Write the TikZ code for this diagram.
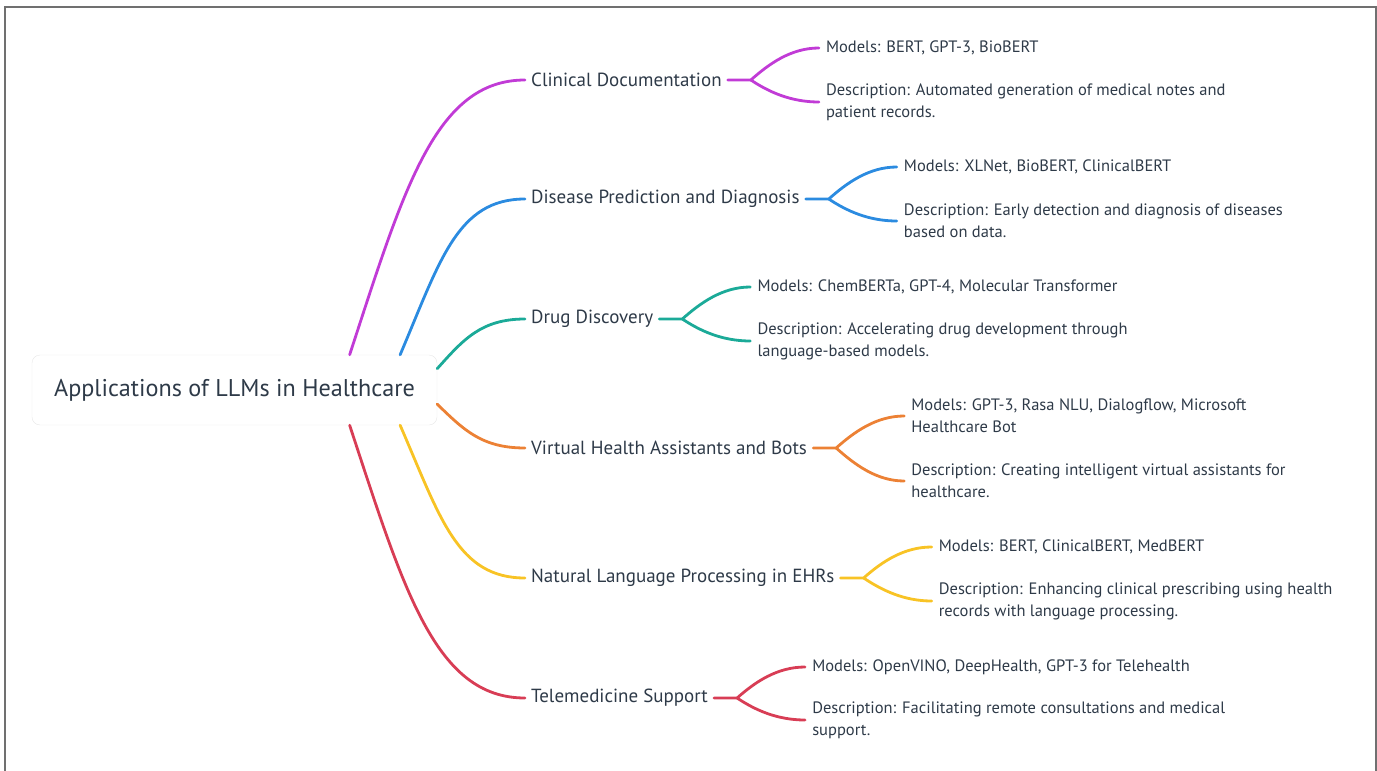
\documentclass[tikz,border=0pt]{standalone}
\usepackage{fontspec}
\setmainfont{PT Sans}
\usetikzlibrary{positioning}
\definecolor{txt}{HTML}{2E3A48}
\definecolor{cMag}{HTML}{C13BD6}
\definecolor{cBlue}{HTML}{2B8BE0}
\definecolor{cTeal}{HTML}{1BAA98}
\definecolor{cOrange}{HTML}{EC8135}
\definecolor{cYellow}{HTML}{F8C325}
\definecolor{cRed}{HTML}{D83D55}
\definecolor{frameGray}{HTML}{707070}
\tikzset{
  root/.style={draw=black!9, fill=white, rounded corners=8pt, minimum width=405pt,
    minimum height=70pt, inner sep=0pt, font=\fontsize{24.2}{28}\selectfont, text=txt},
  topic/.style={anchor=west, inner sep=0pt, inner xsep=6pt, font=\fontsize{19}{22}\selectfont, text=txt},
  leaf/.style={anchor=west, inner sep=0pt, inner xsep=7pt, align=left, font=\fontsize{16.5}{22}\selectfont, text=txt},
  branch/.style={line width=2.8pt, line cap=round},
}
\begin{document}
\begin{tikzpicture}[x=1pt,y=-1pt]
    \useasboundingbox (0,0) rectangle (1377,771);
    \draw[frameGray, line width=1.2pt] (5,771) -- (5,7) -- (1376,7) -- (1376,771);

    \node[root] (root) at (234.5,390) {Applications of LLMs in Healthcare};

    % first level
    \node[topic] (cd) at (525,80) {Clinical Documentation};
    \node[topic] (dp) at (525,199) {Disease Prediction and Diagnosis};
    \node[topic] (dd) at (525,319) {Drug Discovery};
    \node[topic] (va) at (525,448) {Virtual Health Assistants and Bots};
    \node[topic] (nlp) at (525,578) {Natural Language Processing in EHRs};
    \node[topic] (tm) at (525,698) {Telemedicine Support};

    \draw[branch, cMag] (root.17.6) .. controls +(54,-165) and +(-90,0) .. (cd.west);
    \draw[branch, cBlue] (root.12.7) .. controls +(40,-94) and +(-68,0) .. (dp.west);
    \draw[branch, cTeal] (root.6.5) .. controls +(26,-29) and +(-44,0) .. (dd.west);
    \draw[branch, cOrange] (root.-4.8) .. controls +(26,25) and +(-44,0) .. (va.west);
    \draw[branch, cYellow] (root.-12.7) .. controls +(40,92) and +(-68,0) .. (nlp.west);
    \draw[branch, cRed] (root.-17.6) .. controls +(54,164) and +(-90,0) .. (tm.west);

    % fork points
    \coordinate (cdf) at ([xshift=23pt]cd.east);
    \coordinate (dpf) at ([xshift=23pt]dp.east);
    \coordinate (ddf) at ([xshift=23pt]dd.east);
    \coordinate (vaf) at ([xshift=23pt]va.east);
    \coordinate (nlpf) at ([xshift=23pt]nlp.east);
    \coordinate (tmf) at ([xshift=23pt]tm.east);

    % second level
    \node[leaf] (cdm) at ([shift={(68,-32)}]cdf) {Models: BERT, GPT-3, BioBERT};
    \node[leaf] (cdd) at ([shift={(68,22)}]cdf) {Description: Automated generation of medical notes and\\patient records.};
    \node[leaf] (dpm) at ([shift={(68,-32)}]dpf) {Models: XLNet, BioBERT, ClinicalBERT};
    \node[leaf] (dpd) at ([shift={(68,22)}]dpf) {Description: Early detection and diagnosis of diseases\\based on data.};
    \node[leaf] (ddm) at ([shift={(68,-32)}]ddf) {Models: ChemBERTa, GPT-4, Molecular Transformer};
    \node[leaf] (ddd) at ([shift={(68,22)}]ddf) {Description: Accelerating drug development through\\language-based models.};
    \node[leaf] (vam) at ([shift={(68,-32)}]vaf) {Models: GPT-3, Rasa NLU, Dialogflow, Microsoft\\Healthcare Bot};
    \node[leaf] (vad) at ([shift={(68,33)}]vaf) {Description: Creating intelligent virtual assistants for\\healthcare.};
    \node[leaf] (nlpm) at ([shift={(68,-31)}]nlpf) {Models: BERT, ClinicalBERT, MedBERT};
    \node[leaf] (nlpd) at ([shift={(68,23)}]nlpf) {Description: Enhancing clinical prescribing using health\\records with language processing.};
    \node[leaf] (tmm) at ([shift={(68,-31)}]tmf) {Models: OpenVINO, DeepHealth, GPT-3 for Telehealth};
    \node[leaf] (tmd) at ([shift={(68,22)}]tmf) {Description: Facilitating remote consultations and medical\\support.};

    \draw[branch, cMag] (cd.east) -- (cdf) .. controls +(18,-16) and +(-28,0) .. (cdm.west);
    \draw[branch, cMag] (cdf) .. controls +(18,12) and +(-28,0) .. (cdd.west);
    \draw[branch, cBlue] (dp.east) -- (dpf) .. controls +(18,-16) and +(-28,0) .. (dpm.west);
    \draw[branch, cBlue] (dpf) .. controls +(18,12) and +(-28,0) .. (dpd.west);
    \draw[branch, cTeal] (dd.east) -- (ddf) .. controls +(18,-16) and +(-28,0) .. (ddm.west);
    \draw[branch, cTeal] (ddf) .. controls +(18,12) and +(-28,0) .. (ddd.west);
    \draw[branch, cOrange] (va.east) -- (vaf) .. controls +(18,-16) and +(-28,0) .. (vam.west);
    \draw[branch, cOrange] (vaf) .. controls +(18,16) and +(-28,0) .. (vad.west);
    \draw[branch, cYellow] (nlp.east) -- (nlpf) .. controls +(18,-16) and +(-28,0) .. (nlpm.west);
    \draw[branch, cYellow] (nlpf) .. controls +(18,12) and +(-28,0) .. (nlpd.west);
    \draw[branch, cRed] (tm.east) -- (tmf) .. controls +(18,-16) and +(-28,0) .. (tmm.west);
    \draw[branch, cRed] (tmf) .. controls +(18,12) and +(-28,0) .. (tmd.west);
\end{tikzpicture}
\end{document}
